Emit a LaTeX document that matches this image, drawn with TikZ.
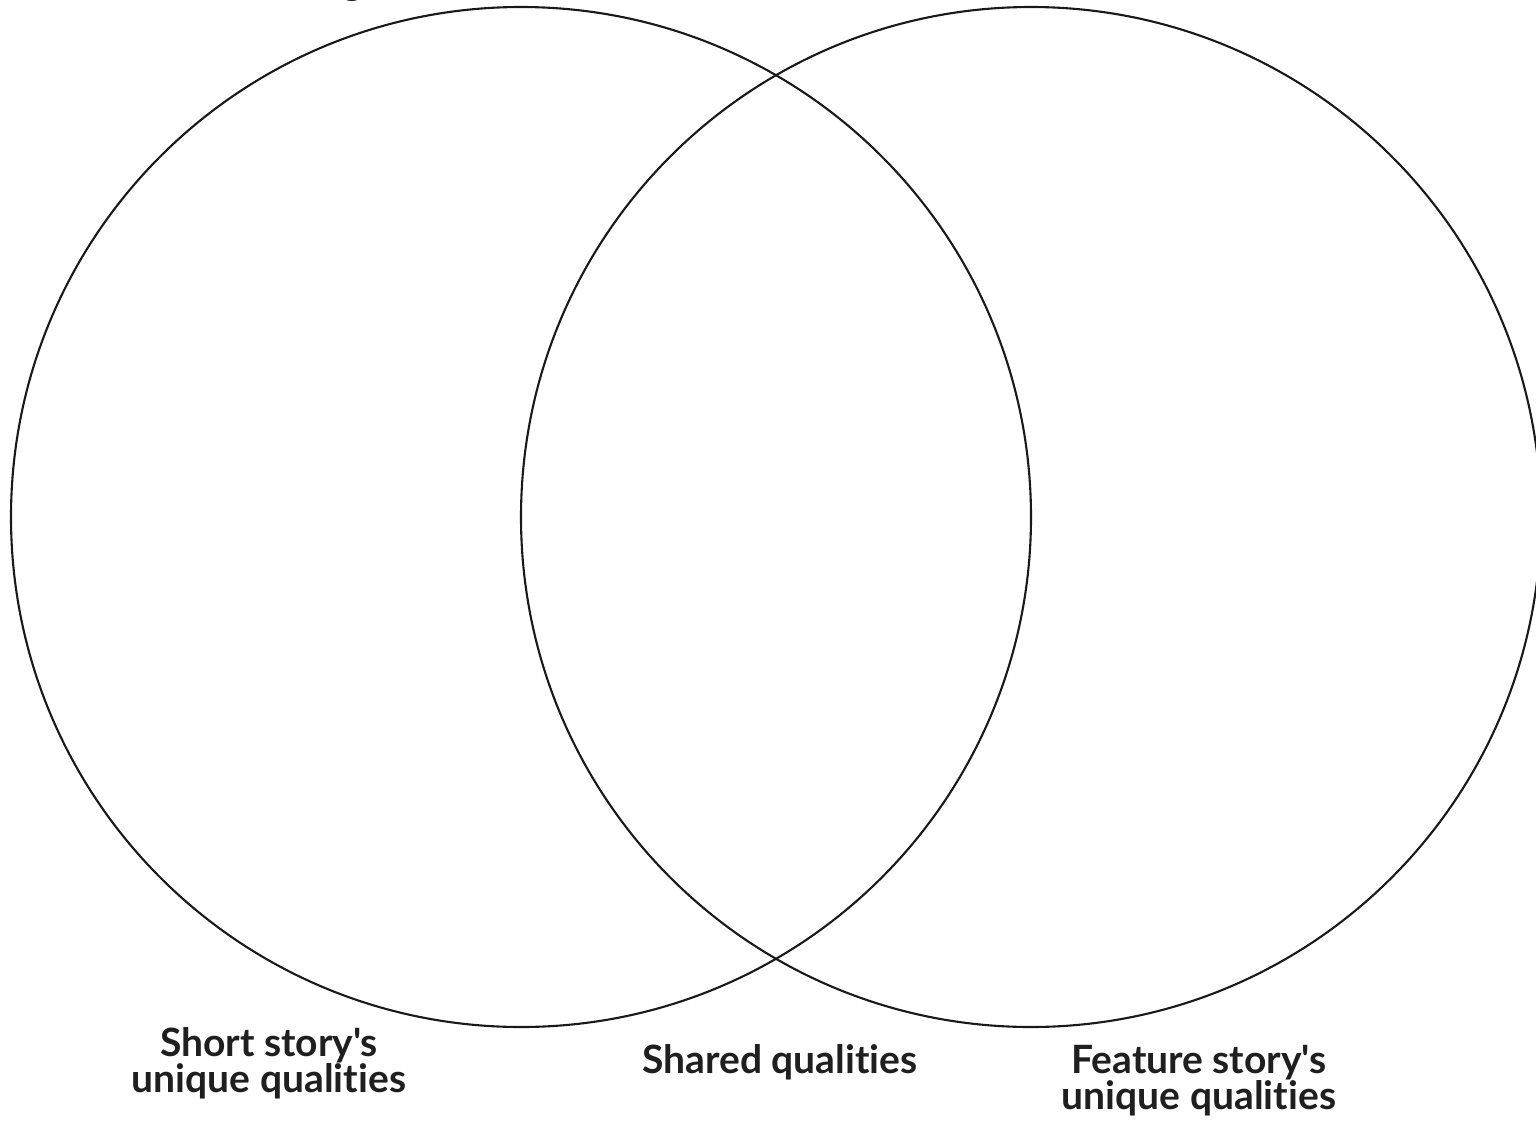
\documentclass[tikz,border=0pt]{standalone}
\usepackage{fontspec}
\setmainfont{Lato}[Ligatures={NoCommon,TeXOff}]
\setlength{\lineskiplimit}{-60pt}
\begin{document}
\begin{tikzpicture}[x=1pt,y=-1pt,
  venn/.style={draw=black!90, line width=2.1pt},
  lbl/.style={font=\fontsize{39}{35.5}\selectfont\bfseries, text=black!88, align=center, inner sep=0pt}]
\useasboundingbox (0,0) rectangle (1536,1122);
\fill[white] (0,0) rectangle (1536,1122);
\coordinate (cl) at (521,517);
\coordinate (cr) at (1031,517);
\draw[venn] (cl) circle[radius=510];
\draw[venn] (cr) circle[radius=510];
\node[lbl, anchor=base] (frag) at (353,-6) {g};
\node[lbl, anchor=base] (short) at (269,1092) {Short story's\\unique qualities};
\node[lbl, anchor=base] (shared) at (780,1073) {Shared qualities};
\node[lbl, anchor=base] (feature) at (1199,1109) {Feature story's\\unique qualities};
\end{tikzpicture}
\end{document}
